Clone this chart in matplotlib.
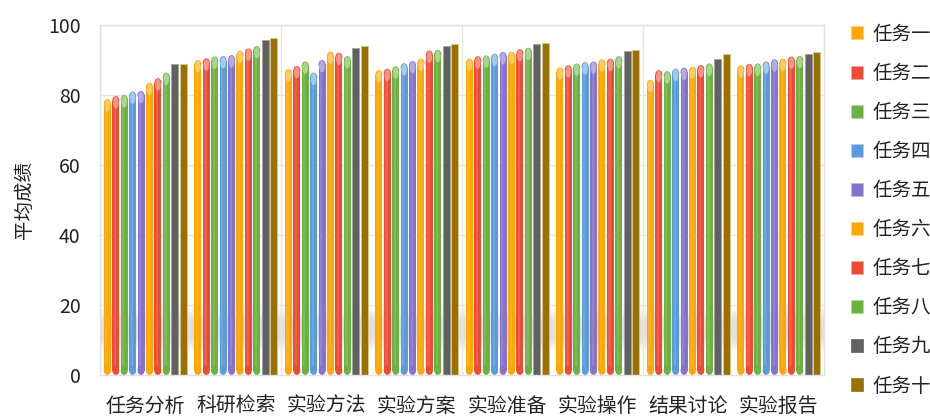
import numpy as np
import matplotlib.pyplot as plt
from matplotlib.patches import Ellipse, Patch

plt.rcParams['font.family'] = ['Noto Sans CJK SC', 'DejaVu Sans']

categories = ['任务分析', '科研检索', '实验方法', '实验方案', '实验准备', '实验操作', '结果讨论', '实验报告']
series_names = ['任务一', '任务二', '任务三', '任务四', '任务五', '任务六', '任务七', '任务八', '任务九', '任务十']

task1 = [78.8, 90.0, 87.4, 87.1, 90.4, 87.9, 84.3, 88.5]
task2 = [79.7, 90.5, 88.3, 87.5, 91.1, 88.5, 87.1, 88.9]
task3 = [80.0, 91.0, 89.6, 88.2, 91.3, 89.0, 86.8, 89.0]
task4 = [81.0, 91.1, 86.4, 89.1, 91.8, 89.4, 87.5, 89.6]
task5 = [81.2, 91.4, 90.0, 89.7, 92.3, 89.6, 87.8, 90.2]
task6 = [83.5, 92.6, 92.4, 90.4, 92.4, 90.2, 88.1, 90.4]
task7 = [84.8, 93.3, 92.1, 92.7, 93.1, 90.4, 88.6, 91.0]
task8 = [86.4, 94.0, 91.1, 92.9, 93.5, 91.1, 89.0, 91.2]
task9 = [88.9, 95.7, 93.3, 93.9, 94.5, 92.6, 90.4, 91.7]
task10 = [88.9, 96.4, 94.1, 94.6, 94.9, 92.9, 91.7, 92.3]
all_tasks = [task1, task2, task3, task4, task5, task6, task7, task8, task9, task10]

# body colour, highlight colour (None = flat bar)
orange = ('#FFA600', '#FFD27A')
red = ('#EF4A36', '#F8A395')
green = ('#6CB240', '#B6DC9C')
blue = ('#5A9BDC', '#AFD2F2')
purple = ('#8672CE', '#C0B4E8')
styles = [orange, red, green, blue, purple, orange, red, green,
          ('#616161', None), ('#9A7100', None)]

fig = plt.figure(figsize=(9.3, 4.18), dpi=100)
ax = fig.add_axes([100 / 930, 43 / 418, 724 / 930, 350 / 418])

ax.set_xlim(0, len(categories))
ax.set_ylim(0, 100)

# soft grey floor shadow behind the bars
yy = np.linspace(0, 30, 300)
prof = np.exp(-(np.abs(yy - 13.0) / 5.0) ** 4)
shade = np.zeros((300, 2, 4))
shade[..., :3] = 0.5
shade[..., 3] = (0.24 * prof)[:, None]
ax.imshow(shade, extent=[0, len(categories), 0, 30], origin='lower',
          aspect='auto', zorder=0.5, interpolation='bilinear')

# grid
for v in [20, 40, 60, 80, 100]:
    ax.axhline(v, color='#E6E6E6', lw=1, zorder=0.6)
for xv in [2, 4, 6]:
    ax.axvline(xv, color='#E6E6E6', lw=1, zorder=0.6)
for s in ax.spines.values():
    s.set_color('#E0E0E0')
    s.set_linewidth(1)

n = len(all_tasks)
pitch = 0.093
width = 0.077
unit = 100 / 350  # data units per pixel vertically
cap = 4.5 * unit

for i, (vals, (col, hi)) in enumerate(zip(all_tasks, styles)):
    xs = np.arange(len(categories)) + 0.5 + (i - (n - 1) / 2) * pitch
    for x, v in zip(xs, vals):
        if hi is None:
            ax.bar(x, v, width=width, color=col, edgecolor='#D8C890' if i == 9 else '#A0A0A0',
                   linewidth=0.6, zorder=2)
            continue
        ax.bar(x, v - 2 * cap, bottom=cap, width=width, color=col, lw=0, zorder=2)
        ax.add_patch(Ellipse((x, v - cap), width, 2 * cap, color=col, lw=0, zorder=2))
        ax.add_patch(Ellipse((x, cap), width, 2 * cap, color=col, lw=0, zorder=2))
        # slight shine along the body
        ax.bar(x - width * 0.12, v - 4 * cap, bottom=2 * cap, width=width * 0.3,
               color='white', alpha=0.12, lw=0, zorder=2.1)
        ax.add_patch(Ellipse((x, v - 6.5 * unit), width * 0.8, 12 * unit,
                             color=hi, alpha=0.85, lw=0, zorder=2.2))

ax.set_xticks(np.arange(len(categories)) + 0.5)
ax.set_xticklabels(categories, fontsize=14.3, color='#222222')
ax.set_yticks(range(0, 101, 20))
ax.tick_params(axis='y', labelsize=14, labelcolor='#222222', length=0, pad=14)
ax.tick_params(axis='x', length=0, pad=15)
ax.set_ylabel('平均成绩', fontsize=14, color='#222222', labelpad=9)

handles = [Patch(facecolor=s[0], edgecolor=s[1] or s[0], lw=0.5) for s in styles]
fig.legend(handles, series_names, loc='upper left', bbox_to_anchor=(843 / 930, 1 - 16 / 418),
           frameon=False, fontsize=14, handlelength=0.65, handleheight=0.65,
           handletextpad=0.45, labelspacing=0.93, borderaxespad=0, labelcolor='#222222')

fig.savefig('out.png', dpi=100)
